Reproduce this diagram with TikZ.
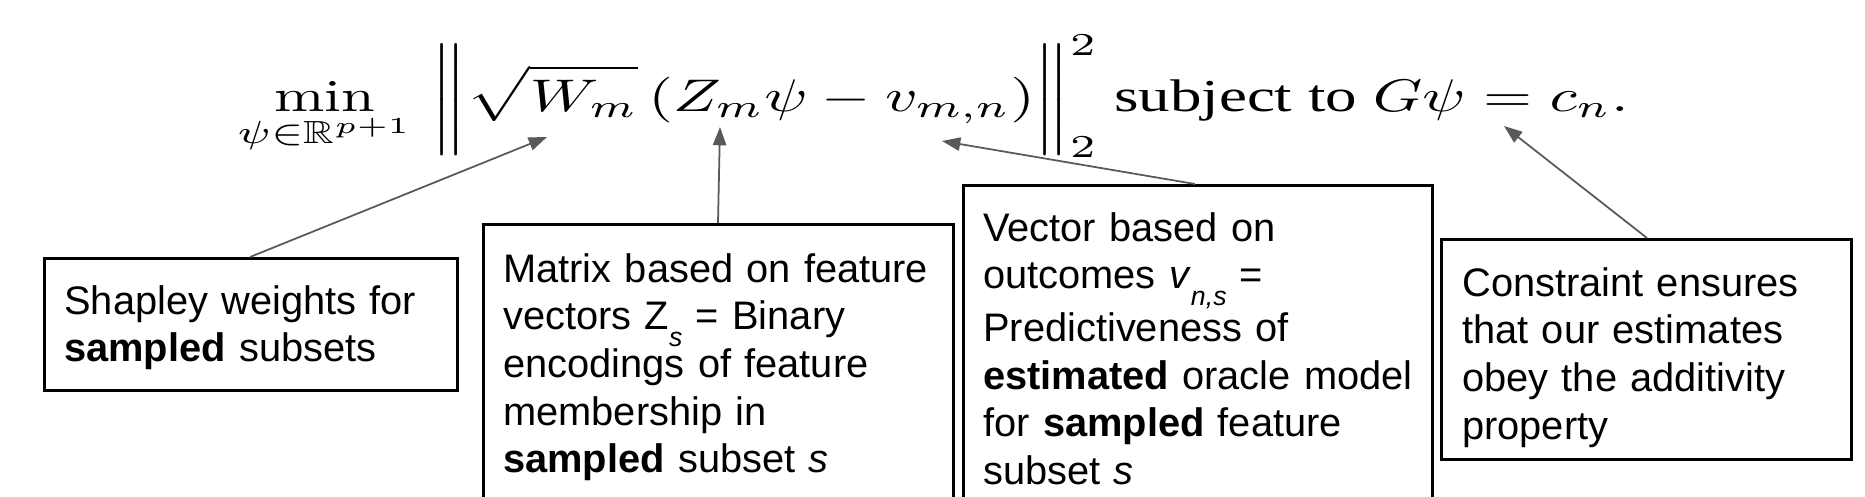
\documentclass[tikz,border=0pt]{standalone}
\usepackage{amsmath,amssymb}
\usepackage{graphicx}
\usepackage{fontspec}
\newfontfamily\boxfont{Liberation Sans}
\newfontfamily\textserif{Liberation Serif}
\usetikzlibrary{arrows.meta,calc}
\definecolor{arrowgray}{HTML}{595959}
\newcommand{\sub}[1]{\raisebox{-0.42em}{\fontsize{7.6pt}{8pt}\selectfont\itshape #1}}
\begin{document}
\begin{tikzpicture}[x=0.01cm,y=-0.01cm,
  callout/.style={draw=black, line width=0.75pt, fill=white, anchor=north west,
    inner xsep=0.2cm, inner ysep=0pt, align=left,
    font=\boxfont\fontsize{11.32pt}{13.54pt}\selectfont},
  pointer/.style={draw=arrowgray, line width=0.5pt,
    -{Triangle[length=5.2pt,width=3.8pt]}}]
\useasboundingbox (0,0) rectangle (1865,496);
\clip (0,0) rectangle (1865,496);

\node[anchor=base west, inner sep=0pt] (formula) at (237,111)
  {\scalebox{1.72}[1.3]{$\displaystyle\min_{\psi\in\mathbb{R}^{p+1}}$}\hspace{5.7pt}%
   \scalebox{1.80}[1.3]{$\displaystyle\left\|\vrule height 14.6pt depth 9.6pt width 0pt\sqrt{W_m}\left(Z_m\psi-v_{m,n}\right)\right\|_2^2$}%
   \scalebox{1.79}[1.3]{\textserif\ subject to $G\psi=c_n.$}};

\coordinate (tW) at (547,137);
\coordinate (tZ) at (720,127);
\coordinate (tv) at (942,141);
\coordinate (tc) at (1504,126);

\node[callout, text width=3.73cm, text height=0.56cm, text depth=0.76cm] (shap) at (43,257)
  {Shapley weights for\\\textbf{sampled} subsets};
\node[callout, text width=4.30cm, text height=0.58cm, text depth=2.45cm] (matrix) at (482,223)
  {Matrix based on feature\\vectors Z\sub{s} = Binary\\encodings of feature\\membership in\\\textbf{sampled} subset \textit{s}};
\node[callout, text width=4.29cm, text height=0.56cm, text depth=2.85cm] (vec) at (962,184)
  {Vector based on\\outcomes \textit{v}\sub{n,s} =\\Predictiveness of\\\textbf{estimated} oracle model\\for \textbf{sampled} feature\\subset \textit{s}};
\node[callout, text width=3.68cm, text height=0.57cm, text depth=1.63cm, inner xsep=0.21cm] (cons) at (1440,238)
  {Constraint ensures\\that our estimates\\obey the additivity\\property};

\draw[pointer] ($(shap.north west)+(207,0)$) -- (tW);
\draw[pointer] ($(matrix.north west)+(236,0)$) -- (tZ);
\draw[pointer] ($(vec.north west)+(233,0)$) -- (tv);
\draw[pointer] ($(cons.north west)+(207,0)$) -- (tc);
\end{tikzpicture}
\end{document}
